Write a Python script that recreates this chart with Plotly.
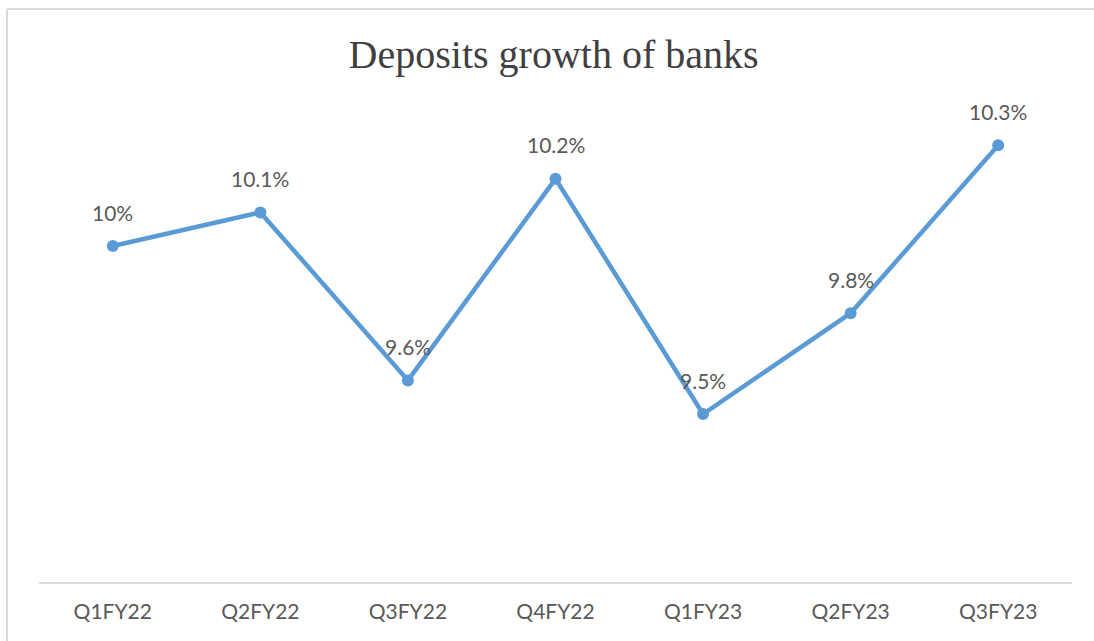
import plotly.graph_objects as go

quarters = ["Q1FY22", "Q2FY22", "Q3FY22", "Q4FY22", "Q1FY23", "Q2FY23", "Q3FY23"]
growth = [10.0, 10.1, 9.6, 10.2, 9.5, 9.8, 10.3]
labels = ["10%", "10.1%", "9.6%", "10.2%", "9.5%", "9.8%", "10.3%"]

LINE = "#5B9BD5"
TXT = "#595959"
SANS = "Lato, Open Sans, sans-serif"

fig = go.Figure()
fig.add_trace(go.Scatter(
    x=quarters, y=growth, mode="lines+markers",
    line=dict(color=LINE, width=4.5),
    marker=dict(color=LINE, size=12),
    hoverinfo="x+y", showlegend=False,
))

for q, v, t in zip(quarters, growth, labels):
    fig.add_annotation(x=q, y=v, text=t, showarrow=False, yshift=34,
                       font=dict(family=SANS, size=21, color=TXT))

fig.update_layout(
    width=1094, height=641,
    margin=dict(l=39, r=22, t=78, b=59),
    paper_bgcolor="white", plot_bgcolor="white",
    title=dict(text="Deposits growth of banks", x=0.506, xanchor="center",
               y=0.915, yanchor="middle",
               font=dict(family="Liberation Serif, Times New Roman, serif", size=40, color="#404040")),
    xaxis=dict(range=[-0.5, 6.5], showgrid=False, showline=True, linecolor="#D9D9D9", linewidth=1.5,
               ticks="", ticklabelstandoff=10,
               tickfont=dict(family=SANS, size=21, color=TXT),
               zeroline=False, fixedrange=True),
    yaxis=dict(range=[9.0, 10.5], visible=False, showgrid=False, zeroline=False, fixedrange=True),
    shapes=[
        dict(type="line", xref="paper", yref="paper", x0=-0.031, x1=1.05, y0=1.137, y1=1.137,
             line=dict(color="#D9D9D9", width=2)),
        dict(type="line", xref="paper", yref="paper", x0=-0.031, x1=-0.031, y0=-0.2, y1=1.137,
             line=dict(color="#D9D9D9", width=2)),
    ],
)

fig.write_html("out.html")
